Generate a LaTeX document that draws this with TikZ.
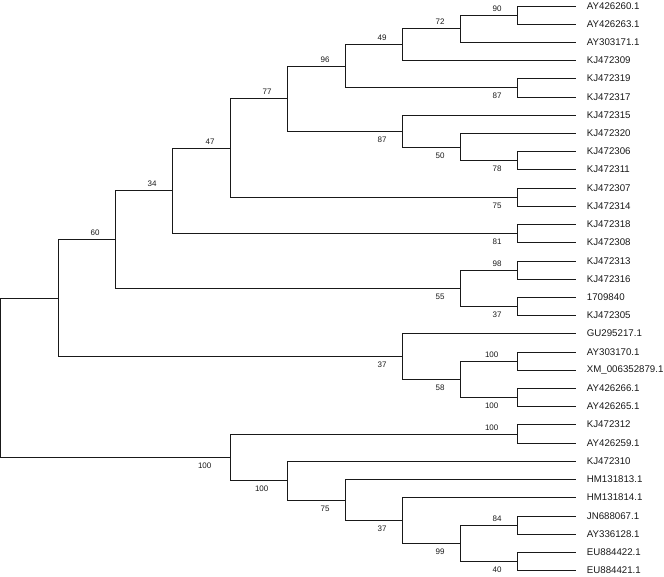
\documentclass[tikz,border=0pt]{standalone}
\usepackage{fontspec}
\setmainfont{Liberation Sans}
\newcommand\ncoord[3]{\coordinate (#1) at ({round(#2-0.5)+0.5},{round(#3-0.5)+0.5});}
\begin{document}
\begin{tikzpicture}[x=1pt,y=-1pt,
  edge/.style={draw=black!90,line width=1.5pt},
  leaf/.style={anchor=west,inner sep=0pt,xshift=11.2pt,font=\fontsize{9.7}{11}\selectfont,text=black!90},
  bval/.style={inner sep=0pt,font=\fontsize{8}{9.6}\selectfont,text=black!90,xshift=-20.4pt},
  bup/.style={bval,yshift=6.3pt},
  bdn/.style={bval,yshift=-8.3pt},
  wide/.style={xshift=-5.4pt}]
\useasboundingbox (0,0) rectangle (664,577);
% leaves
\foreach \i/\t in {1/AY426260.1,2/AY426263.1,3/AY303171.1,4/KJ472309,5/KJ472319,6/KJ472317,
  7/KJ472315,8/KJ472320,9/KJ472306,10/KJ472311,11/KJ472307,12/KJ472314,13/KJ472318,14/KJ472308,
  15/KJ472313,16/KJ472316,17/1709840,18/KJ472305,19/GU295217.1,20/AY303170.1,21/XM\_006352879.1,
  22/AY426266.1,23/AY426265.1,24/KJ472312,25/AY426259.1,26/KJ472310,27/HM131813.1,28/HM131814.1,
  29/JN688067.1,30/AY336128.1,31/EU884422.1,32/EU884421.1}{
  \ncoord{L\i}{575}{6+(\i-1)*18.215}
  \node[leaf] (t\i) at (L\i) {\t};
}
% internal nodes
\ncoord{root}{0.9}{377.76}
\ncoord{nA}{58.13}{298.12}
\ncoord{n60}{115.56}{239.60}
\ncoord{n34}{172.99}{190.86}
\ncoord{n47}{230.42}{148.03}
\ncoord{n77}{287.85}{98.79}
\ncoord{n96}{345.28}{66.34}
\ncoord{n49}{402.71}{44.71}
\ncoord{n72}{460.14}{28.77}
\ncoord{n90}{517.57}{15.11}
\ncoord{n87a}{517.57}{87.97}
\ncoord{n87b}{402.71}{131.23}
\ncoord{n50}{460.14}{147.17}
\ncoord{n78}{517.57}{160.83}
\ncoord{n75a}{517.57}{197.26}
\ncoord{n81}{517.57}{233.69}
\ncoord{n55}{460.14}{288.34}
\ncoord{n98}{517.57}{270.12}
\ncoord{n37a}{517.57}{306.55}
\ncoord{n37b}{402.71}{356.64}
\ncoord{n58}{460.14}{379.41}
\ncoord{n100a}{517.57}{361.20}
\ncoord{n100b}{517.57}{397.63}
\ncoord{nB}{230.42}{457.40}
\ncoord{n100c}{517.57}{434.06}
\ncoord{n100d}{287.85}{480.74}
\ncoord{n75b}{345.28}{500.09}
\ncoord{n37c}{402.71}{520.58}
\ncoord{n99}{460.14}{543.35}
\ncoord{n84}{517.57}{525.13}
\ncoord{n40}{517.57}{561.56}
% branches
\foreach \p/\c in {root/nA,root/nB,nA/n60,nA/n37b,n60/n34,n60/n55,n34/n47,n34/n81,
  n47/n77,n47/n75a,n77/n96,n77/n87b,n96/n49,n96/n87a,n49/n72,n49/L4,n72/n90,n72/L3,
  n90/L1,n90/L2,n87a/L5,n87a/L6,n87b/L7,n87b/n50,n50/L8,n50/n78,n78/L9,n78/L10,
  n75a/L11,n75a/L12,n81/L13,n81/L14,n55/n98,n55/n37a,n98/L15,n98/L16,n37a/L17,n37a/L18,
  n37b/L19,n37b/n58,n58/n100a,n58/n100b,n100a/L20,n100a/L21,n100b/L22,n100b/L23,
  nB/n100c,nB/n100d,n100c/L24,n100c/L25,n100d/L26,n100d/n75b,n75b/L27,n75b/n37c,
  n37c/L28,n37c/n99,n99/n84,n99/n40,n84/L29,n84/L30,n40/L31,n40/L32}{
  \draw[edge] (\p) |- (\c);
}
% support values
\node[bup] (s90) at (n90) {90};
\node[bup] (s72) at (n72) {72};
\node[bup] (s49) at (n49) {49};
\node[bup] (s96) at (n96) {96};
\node[bdn] (s87a) at (n87a) {87};
\node[bup] (s77) at (n77) {77};
\node[bdn] (s87b) at (n87b) {87};
\node[bdn] (s50) at (n50) {50};
\node[bdn] (s78) at (n78) {78};
\node[bup] (s47) at (n47) {47};
\node[bdn] (s75a) at (n75a) {75};
\node[bup] (s34) at (n34) {34};
\node[bdn] (s81) at (n81) {81};
\node[bup] (s60) at (n60) {60};
\node[bdn] (s55) at (n55) {55};
\node[bup] (s98) at (n98) {98};
\node[bdn] (s37a) at (n37a) {37};
\node[bdn] (s37b) at (n37b) {37};
\node[bdn] (s58) at (n58) {58};
\node[bup,wide] (s100a) at (n100a) {100};
\node[bdn,wide] (s100b) at (n100b) {100};
\node[bdn,wide] (s100B) at (nB) {100};
\node[bup,wide] (s100c) at (n100c) {100};
\node[bdn,wide] (s100d) at (n100d) {100};
\node[bdn] (s75b) at (n75b) {75};
\node[bdn] (s37c) at (n37c) {37};
\node[bdn] (s99) at (n99) {99};
\node[bup] (s84) at (n84) {84};
\node[bdn] (s40) at (n40) {40};
\end{tikzpicture}
\end{document}
